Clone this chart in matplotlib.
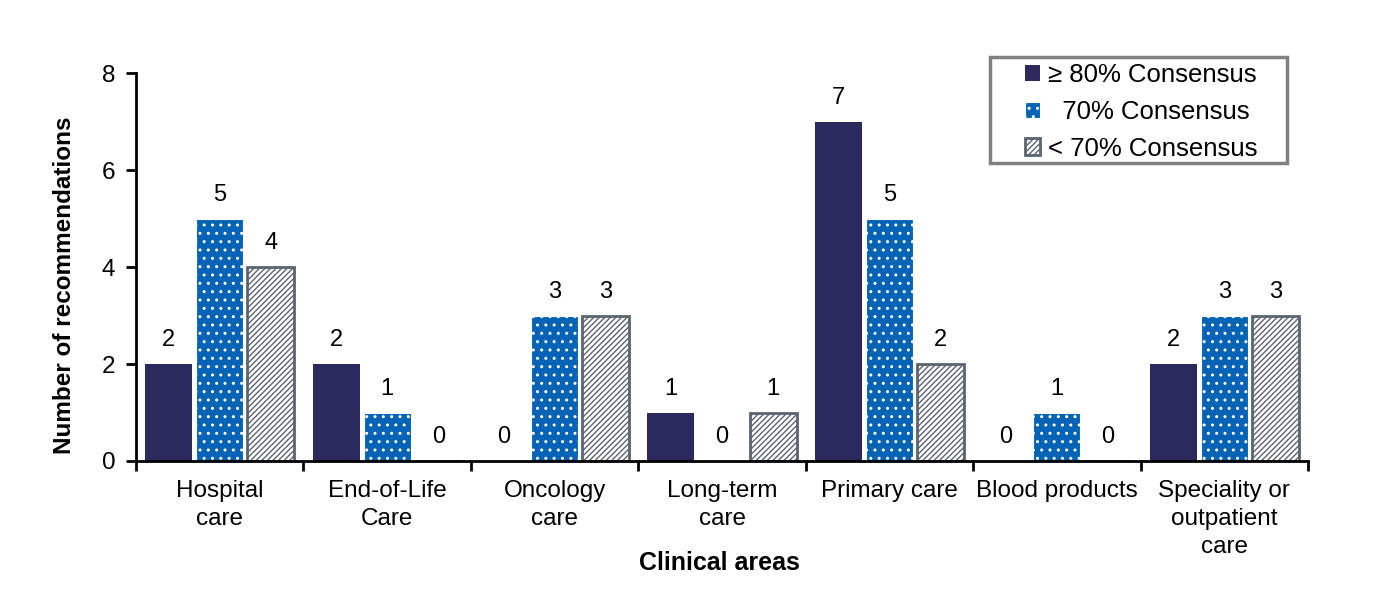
import numpy as np
import matplotlib.pyplot as plt
from matplotlib.patches import Rectangle

plt.rcParams['font.family'] = ['Liberation Sans', 'DejaVu Sans']
plt.rcParams['hatch.linewidth'] = 1.0

# data
areas = ['Hospital\ncare', 'End-of-Life\nCare', 'Oncology\ncare', 'Long-term\ncare',
         'Primary care', 'Blood products', 'Speciality or\noutpatient\ncare']
cons80 = [2, 2, 0, 1, 7, 0, 2]
cons70 = [5, 1, 3, 0, 5, 1, 3]
cons_lt70 = [4, 0, 3, 1, 2, 0, 3]
series_names = ['\u2265 80% Consensus', '  70% Consensus', '< 70% Consensus']

fig = plt.figure(figsize=(13.89, 6.11), dpi=100)
ax = fig.add_axes([0.0979, 0.2455, 0.8438, 0.635])

x = np.arange(len(areas))
w = 0.28
step = 0.305

b1 = ax.bar(x - step, cons80, width=w, color='#2b2a5e', label=series_names[0])
b2 = ax.bar(x, cons70, width=w, color='#0563b5', edgecolor='white',
            hatch='..', linewidth=0.8, label=series_names[1])
b3 = ax.bar(x + step, cons_lt70, width=w, color='white', edgecolor='#5b6470',
            hatch='//////', linewidth=2, label=series_names[2])

for bars in (b1, b2, b3):
    for rect in bars:
        h = rect.get_height()
        ax.annotate(str(int(h)), (rect.get_x() + rect.get_width() / 2, h),
                    xytext=(0, 17), textcoords='offset points',
                    ha='center', va='center', fontsize=17)

ax.set_xlim(-0.5, len(areas) - 0.5)
ax.set_ylim(0, 8)
ax.set_yticks([0, 2, 4, 6, 8])
ax.set_xticks(np.arange(len(areas) + 1) - 0.5)
ax.set_xticklabels([])
ax.set_xticks(x, minor=True)
ax.set_xticklabels(areas, minor=True, fontsize=17.5, va='top', linespacing=1.35)
ax.tick_params(axis='x', which='minor', length=0, pad=14)
ax.tick_params(axis='x', which='major', length=7, width=2, direction='out')
ax.tick_params(axis='y', length=7, width=2, labelsize=17.5, pad=8)

for s in ('top', 'right'):
    ax.spines[s].set_visible(False)
for s in ('left', 'bottom'):
    ax.spines[s].set_linewidth(2)

ax.set_ylabel('Number of recommendations', fontsize=17.5, fontweight='bold')
ax.yaxis.set_label_coords(-0.0606, 0.454)
ax.yaxis.label.set_va('center')
ax.set_xlabel('Clinical areas', fontsize=18, fontweight='bold')
ax.xaxis.set_label_coords(0.498, -0.262)
ax.xaxis.label.set_va('center')

# legend with a hand-placed frame
fig.patches.append(Rectangle((990 / 1389, 1 - 163 / 611), 297 / 1389, 106 / 611,
                             transform=fig.transFigure, fill=False,
                             edgecolor='#808080', linewidth=2.5))
ax.legend(loc='upper left', bbox_to_anchor=(1025 / 1389, 1 - 63 / 611),
          bbox_transform=fig.transFigure, fontsize=18.5, frameon=False,
          handlelength=0.6, handleheight=0.6, handletextpad=0.3,
          borderpad=0, labelspacing=0.5, borderaxespad=0)

fig.savefig('out.png', dpi=100)
